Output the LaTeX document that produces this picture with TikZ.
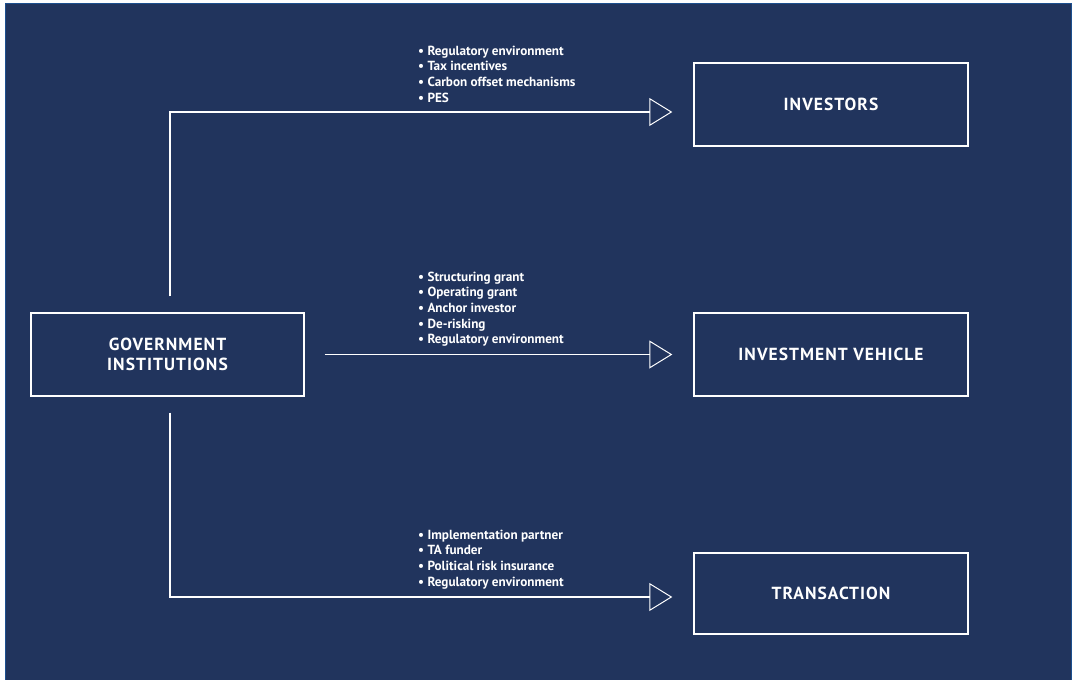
\documentclass[tikz,border=0pt]{standalone}
\usepackage{fontspec}
\setmainfont{PT Sans}
\newfontfamily\labelfont[LetterSpace=6]{PT Sans}
\usetikzlibrary{arrows.meta,positioning}

\definecolor{navy}{HTML}{21345D}
\definecolor{rim}{HTML}{1C4F8F}

\tikzset{
	entity/.style={draw=white, line width=1.4pt, minimum width=273pt, minimum height=83pt,
		text=white, align=center, font=\labelfont\bfseries\fontsize{17.5}{20.5}\selectfont},
	flow/.style={draw=white, line width=1.2pt,
		-{Triangle[open, length=23pt, width=28pt, line width=1pt]}},
	bullets/.style={anchor=north west, inner sep=0pt, text=white, align=left,
		font=\bfseries\fontsize{13.2}{15.7}\selectfont},
}

\begin{document}
\begin{tikzpicture}[x=1pt, y=-1pt]

	% ---- background

	\useasboundingbox (0,0) rectangle (1074,680);
	\fill[white] (0,0) rectangle (1074,680);
	\fill[navy] (5,3) rectangle (1072,680);
	\draw[rim, line width=1pt] (5.5,680) -- (5.5,3.5) -- (1071.5,3.5) -- (1071.5,680);

	% ---- boxes

	\node[entity] (gov) at (167.5,354.5) {GOVERNMENT\\INSTITUTIONS};
	\node[entity, minimum width=274pt] (inv) at (831,104.5) {INVESTORS};
	\node[entity, minimum width=274pt] (veh) at (831,354.5) {INVESTMENT VEHICLE};
	\node[entity, minimum width=274pt, minimum height=81pt] (trans) at (831,593.5) {TRANSACTION};

	% ---- arrows

	\draw[flow, shorten <=16pt, shorten >=21pt] ([xshift=2.5pt]gov.north) |- ([yshift=-7.5pt]inv.west);
	\draw[flow, shorten <=20pt, shorten >=21pt] (gov.east) -- (veh.west);
	\draw[flow, shorten <=16pt, shorten >=21pt] ([xshift=2.5pt]gov.south) |- ([yshift=-3.5pt]trans.west);

	% ---- bullet lists

	\node[bullets] (invlist) at (418,45.5) {• Regulatory environment\\• Tax incentives\\
		• Carbon offset mechanisms\\• PES};
	\node[bullets] (vehlist) at (418,271.5) {• Structuring grant\\• Operating grant\\
		• Anchor investor\\• De-risking\\• Regulatory environment};
	\node[bullets] (translist) at (418,529.5) {• Implementation partner\\• TA funder\\
		• Political risk insurance\\• Regulatory environment};

\end{tikzpicture}
\end{document}
